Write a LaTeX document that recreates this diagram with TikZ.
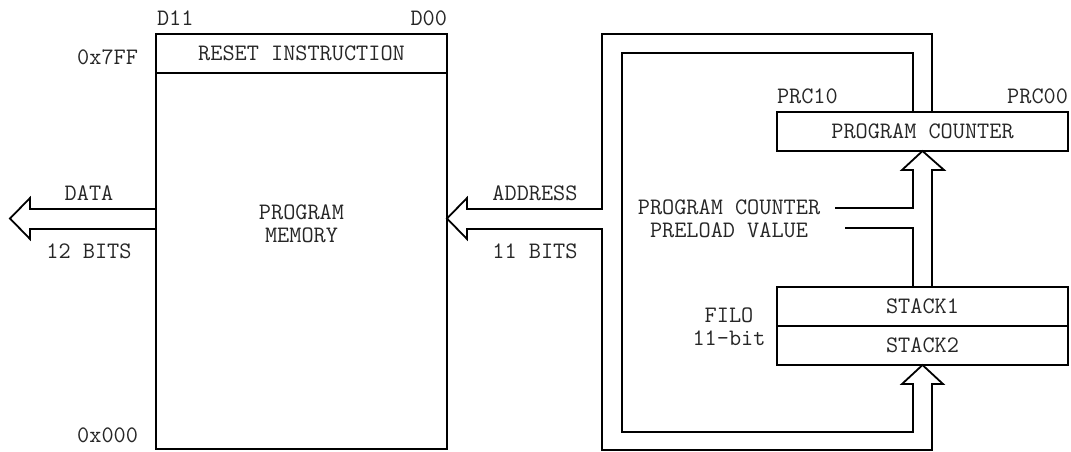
\documentclass[tikz,border=0pt]{standalone}
\usepackage{fontspec}
\begin{document}
\begin{tikzpicture}[x=1pt,y=-1pt,
  every node/.style={font=\ttfamily\fontsize{23.6}{23}\selectfont, inner sep=0pt, outer sep=0pt, text=black!85},
  blockbox/.style={draw, line width=2pt, minimum width=291pt, minimum height=39pt},
  bus/.style={draw, line width=1.8pt, line join=miter}]
\useasboundingbox (0,0) rectangle (1071,451);

% program memory
\node[blockbox, minimum height=415pt] (mem) at (301.5,241.5) {};
\node[blockbox] (reset) at (301.5,53.5) {RESET INSTRUCTION};
\node[align=center] (memlabel) at (301.5,224) {PROGRAM\\MEMORY};
\node[anchor=west] (d11) at (157,18) {D11};
\node[anchor=east] (d00) at (447,18) {D00};
\node[anchor=east] (top) at (138,57) {0x7FF};
\node[anchor=east] (bottom) at (138,435) {0x000};

% program counter and stack
\node[blockbox] (pc) at (922.5,131.5) {PROGRAM COUNTER};
\node[anchor=west] (prc10) at (777,96) {PRC10};
\node[anchor=east] (prc00) at (1068,96) {PRC00};
\node[blockbox] (stack1) at (922.5,306.5) {STACK1};
\node[blockbox] (stack2) at (922.5,345.5) {STACK2};
\node[align=center] (filo) at (729,326.5) {FILO\\11-bit};
\node[align=center] (preload) at (729,218.5) {PROGRAM COUNTER\\PRELOAD VALUE};

% bus labels
\node (data) at (89,193) {DATA};
\node (databits) at (89,251) {12 BITS};
\node (addr) at (535,193) {ADDRESS};
\node (addrbits) at (535,251) {11 BITS};

% data bus out of the memory
\coordinate (dataTip) at (10,218.5);
\draw[bus] (mem.west |- 0,209) -- (30,209) -- (30,198) -- (dataTip)
  -- (30,239) -- (30,229) -- (mem.west |- 0,229);

% address bus into the memory, looping round to the counter and the stack
\coordinate (addrTip) at (mem.east |- dataTip);
\coordinate (stackTip) at (stack2.south);
\coordinate (pcTip) at (pc.south);
\draw[bus] (pc.north -| 932,0) -- (932,34) -- (602,34) -- (602,209) -- (467,209)
  -- (467,198) -- (addrTip) -- (467,239) -- (467,229) -- (602,229) -- (602,450)
  -- (932,450) -- (932,384) -- (943,384) -- (stackTip) -- (902,384) -- (913,384)
  -- (913,432) -- (622,432) -- (622,53) -- (913,53) -- (pc.north -| 913,0);

% counter input from the stack and the preload value
\draw[bus] (stack1.north -| 932,0) -- (932,170) -- (944,170) -- (pcTip)
  -- (902,170) -- (913,170) -- (913,208) -- (835,208);
\draw[bus] (845,228) -- (913,228) -- (stack1.north -| 913,0);
\end{tikzpicture}
\end{document}
